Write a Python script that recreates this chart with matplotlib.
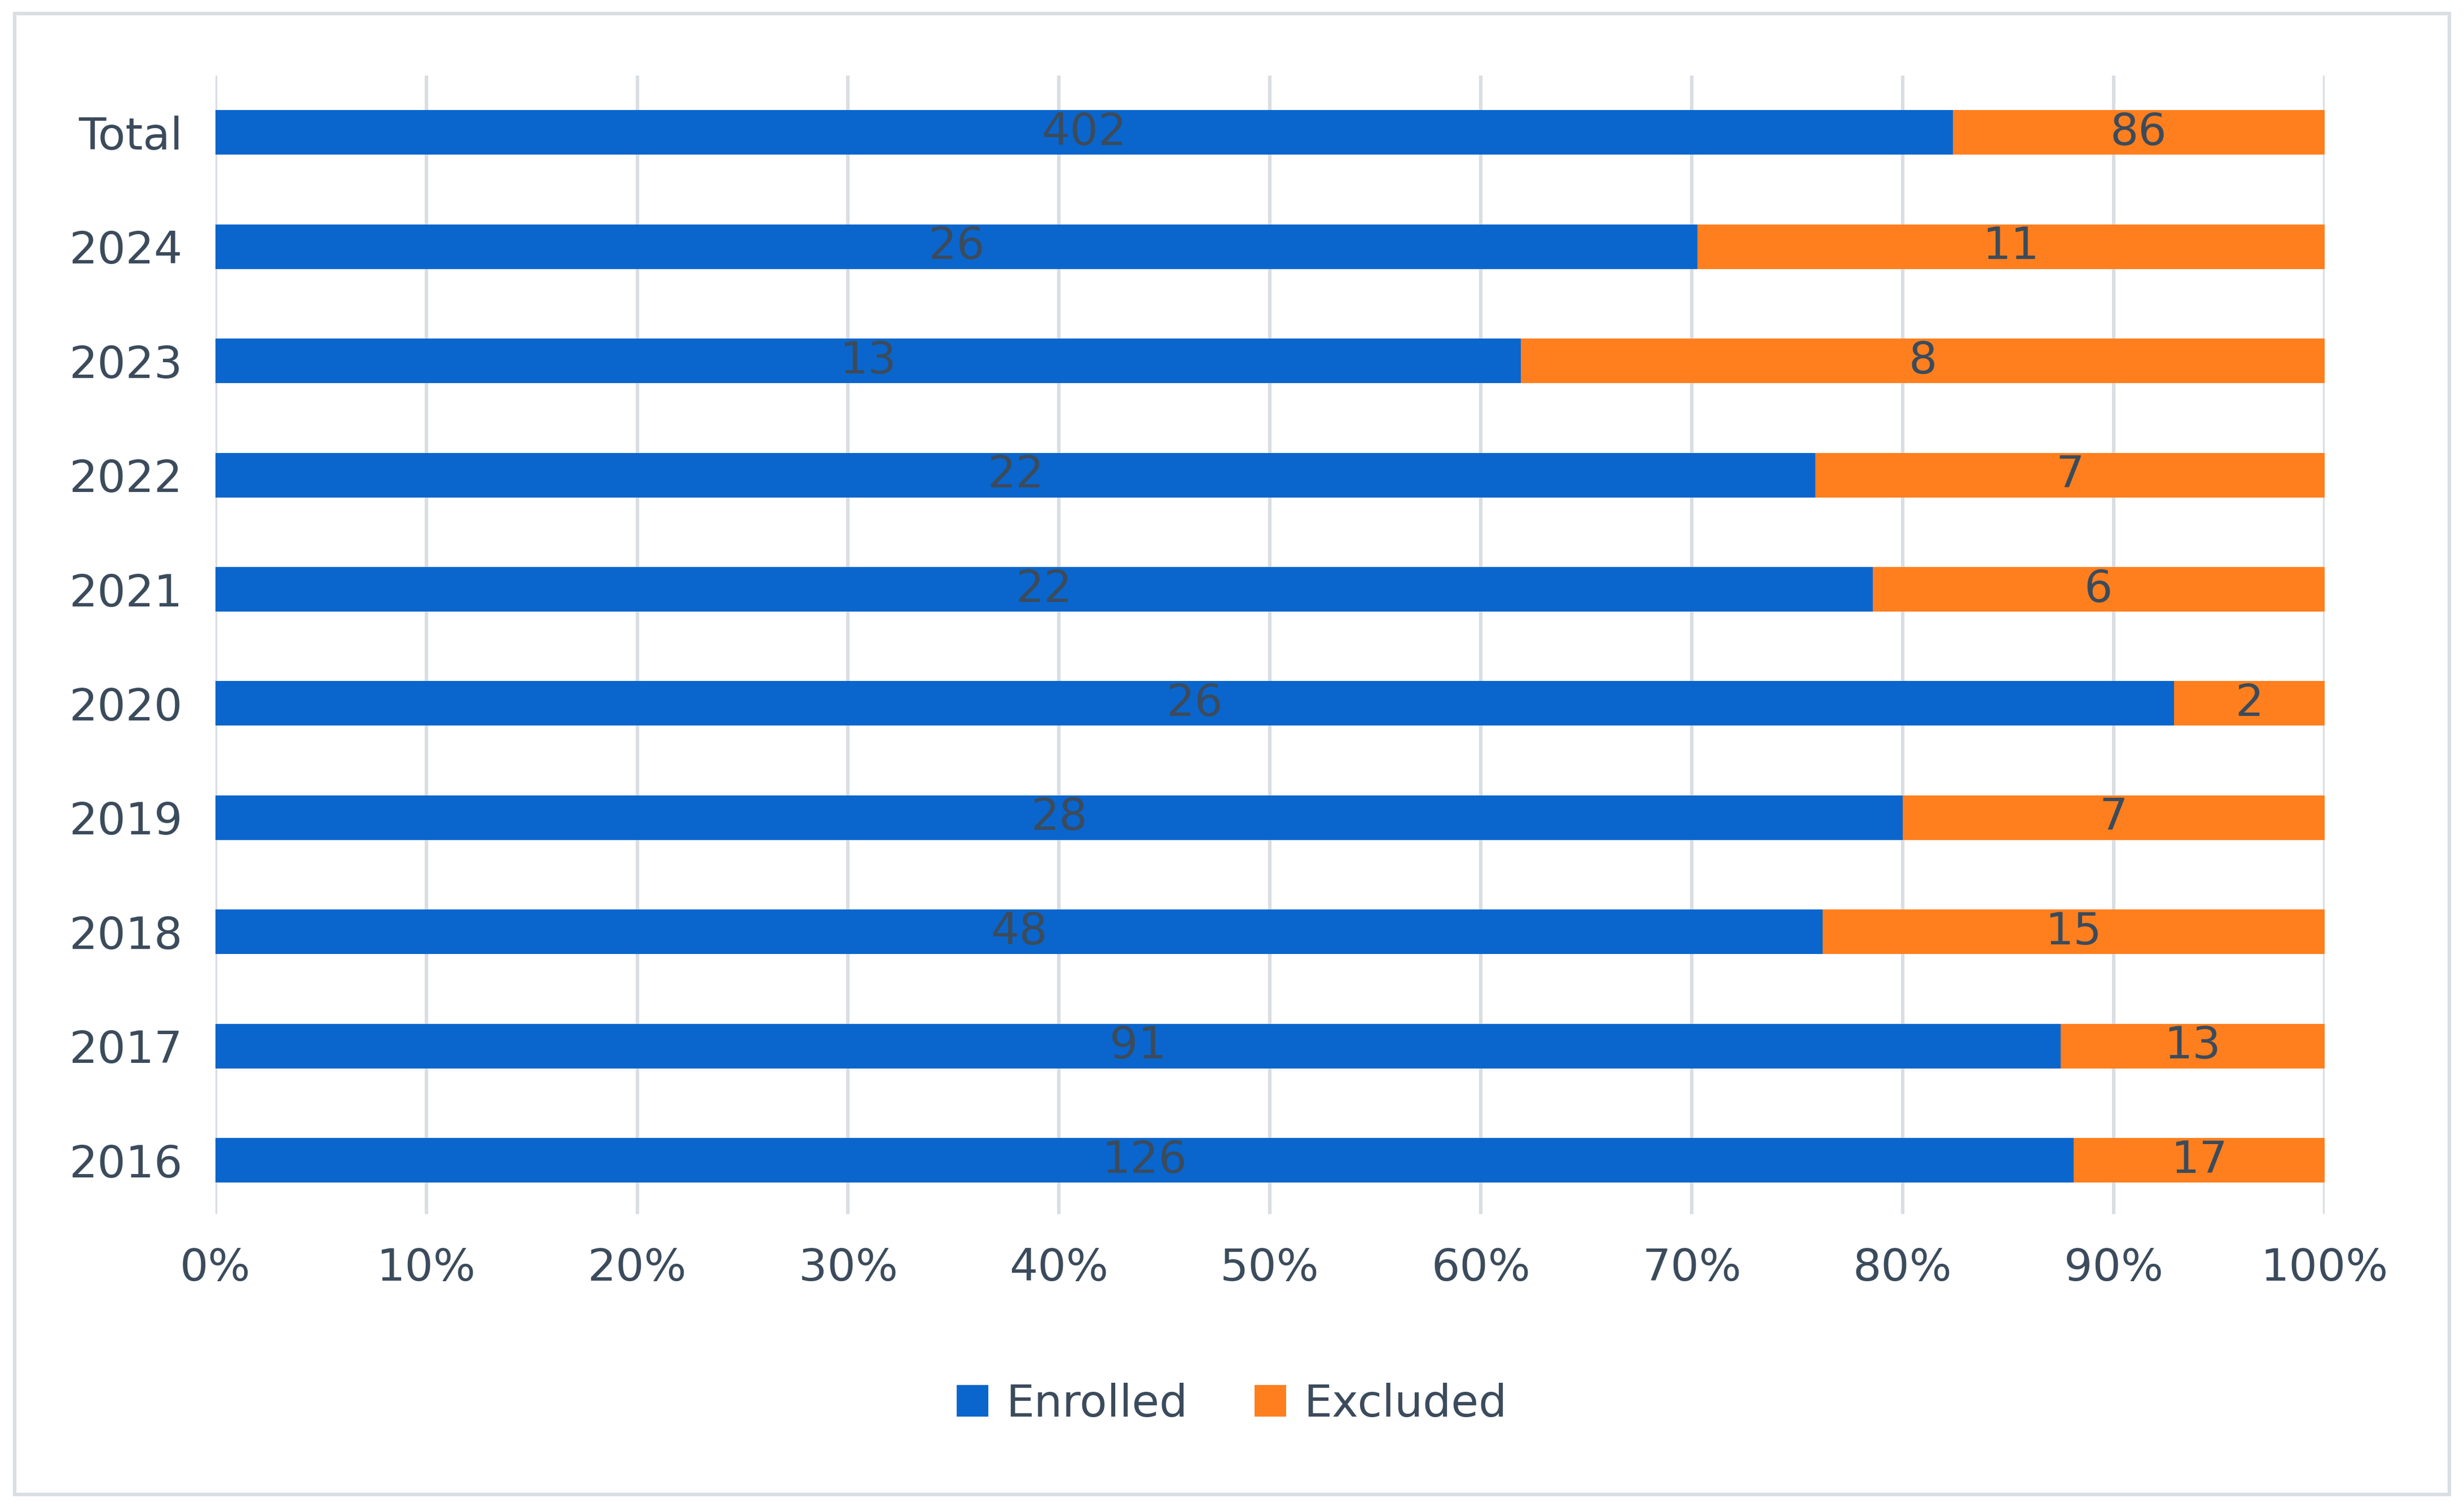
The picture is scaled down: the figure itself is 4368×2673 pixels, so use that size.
import numpy as np
import matplotlib.pyplot as plt
from matplotlib.patches import Rectangle

# data
years = ['2016', '2017', '2018', '2019', '2020', '2021', '2022', '2023', '2024', 'Total']
enrolled = [126, 91, 48, 28, 26, 22, 22, 13, 26, 402]
excluded = [17, 13, 15, 7, 2, 6, 7, 8, 11, 86]

blue = '#0A66CC'
orange = '#FF7F1E'
txt = '#3B4B5C'

enr = np.array(enrolled, float)
exc = np.array(excluded, float)
tot = enr + exc
p_enr = enr / tot
p_exc = exc / tot

fig = plt.figure(figsize=(14.56, 8.91), dpi=300)
ax = fig.add_axes([0.0874, 0.195, 0.856, 0.755])
y = np.arange(len(years))
h = 0.39
ax.barh(y, p_enr, height=h, color=blue, label='Enrolled', zorder=3)
ax.barh(y, p_exc, left=p_enr, height=h, color=orange, label='Excluded', zorder=3)

for i in range(len(years)):
    ax.text(p_enr[i] / 2, y[i], str(enrolled[i]), ha='center', va='center',
            fontsize=19, color=txt, zorder=4)
    ax.text(p_enr[i] + p_exc[i] / 2, y[i], str(excluded[i]), ha='center', va='center',
            fontsize=19, color=txt, zorder=4)

ax.set_xlim(0, 1)
ax.set_ylim(-0.47, 9.5)
ax.set_xticks(np.linspace(0, 1, 11))
ax.set_xticklabels([f'{int(v)}%' for v in np.linspace(0, 100, 11)])
ax.set_yticks(y)
ax.set_yticklabels(years)
ax.tick_params(length=0, labelsize=19, labelcolor=txt, pad=14)
ax.grid(axis='x', color='#D9DEE3', linewidth=1.5, zorder=0)
for s in ax.spines.values():
    s.set_visible(False)

fig.legend(loc='center', bbox_to_anchor=(0.5, 0.069), ncol=2, frameon=False,
           fontsize=19, labelcolor=txt, handlelength=0.7, handleheight=0.7,
           handletextpad=0.4, columnspacing=1.5)
fig.patches.append(Rectangle((0.006, 0.009), 0.988, 0.982, transform=fig.transFigure,
                             fill=False, edgecolor='#D9DEE3', linewidth=1.5))
fig.savefig('out.png')
